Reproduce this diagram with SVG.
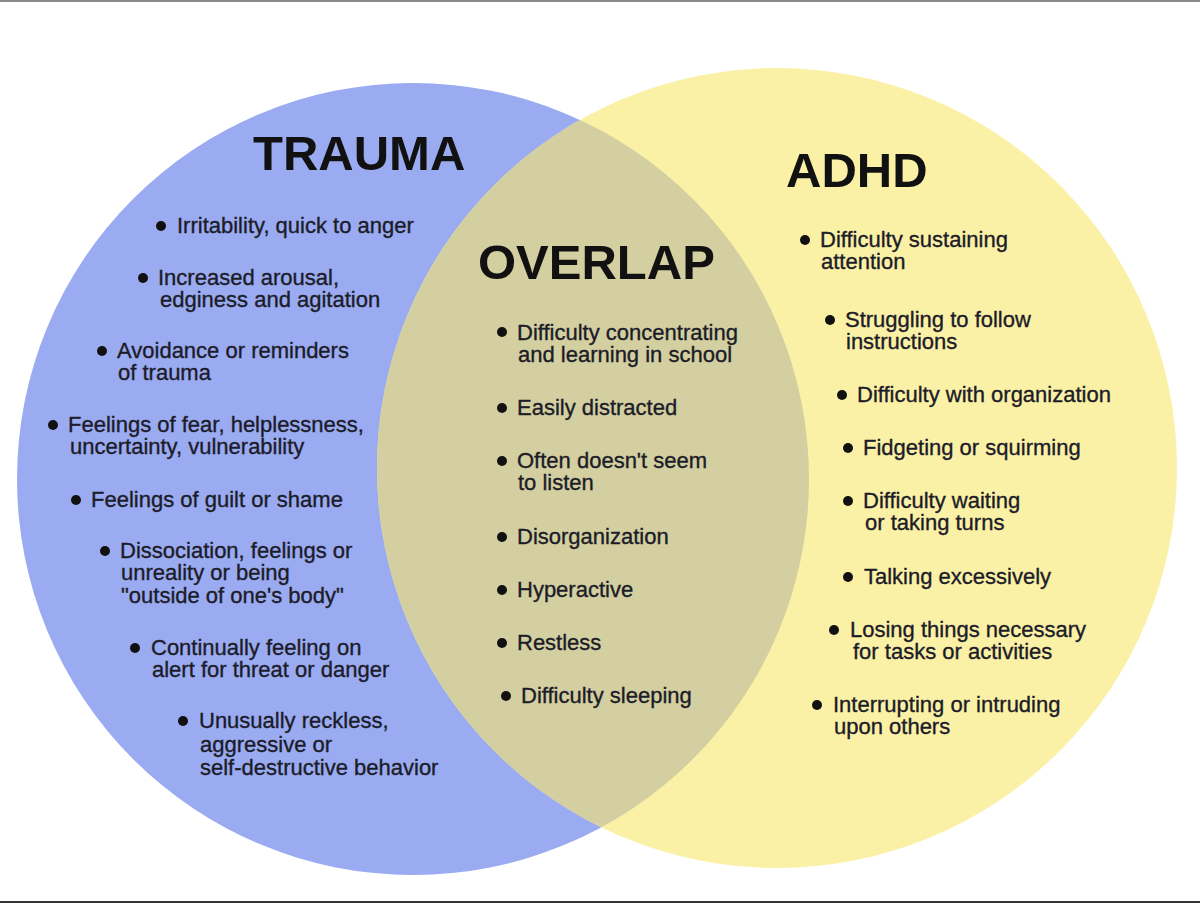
<svg xmlns="http://www.w3.org/2000/svg" width="1200" height="903" viewBox="0 0 1200 903">
<style>
.t{font-family:"Liberation Sans",Arial,sans-serif;font-size:22px;fill:#1c1c28;stroke:#1c1c28;stroke-width:0.35}
.h{font-family:"Liberation Sans",Arial,sans-serif;font-size:49px;font-weight:bold;fill:#111}
.b{fill:#111}
</style>
<defs>
<clipPath id="clipL"><circle cx="413" cy="479" r="396"/></clipPath>
</defs>
<rect x="0" y="0" width="1200" height="903" fill="#ffffff"/>
<rect x="0" y="0" width="1200" height="2" fill="#8a8a8a"/>
<rect x="0" y="901" width="1200" height="2" fill="#333333"/>
<g id="trauma-circle"><circle cx="413" cy="479" r="396" fill="#9aabf2"/></g>
<g id="adhd-circle"><circle cx="777" cy="468" r="400" fill="#fbf1a6"/></g>
<g id="overlap-region"><circle cx="777" cy="468" r="400" fill="#d3cfa0" clip-path="url(#clipL)"/></g>

<g id="trauma">
<text class="h" x="253" y="170">TRAUMA</text>
<circle class="b" cx="161" cy="226" r="5"/><text class="t" x="177" y="233">Irritability, quick to anger</text>
<circle class="b" cx="143" cy="278" r="5"/><text class="t" x="158" y="285">Increased arousal,</text><text class="t" x="160" y="307">edginess and agitation</text>
<circle class="b" cx="102" cy="351" r="5"/><text class="t" x="117" y="358">Avoidance or reminders</text><text class="t" x="118" y="380">of trauma</text>
<circle class="b" cx="53" cy="425" r="5"/><text class="t" x="68" y="432">Feelings of fear, helplessness,</text><text class="t" x="70" y="454">uncertainty, vulnerability</text>
<circle class="b" cx="76" cy="500" r="5"/><text class="t" x="91" y="507">Feelings of guilt or shame</text>
<circle class="b" cx="105" cy="551" r="5"/><text class="t" x="120" y="558">Dissociation, feelings or</text><text class="t" x="121" y="580">unreality or being</text><text class="t" x="121" y="603">"outside of one's body"</text>
<circle class="b" cx="135" cy="648" r="5"/><text class="t" x="151" y="655">Continually feeling on</text><text class="t" x="152" y="677">alert for threat or danger</text>
<circle class="b" cx="183" cy="721" r="5"/><text class="t" x="199" y="728">Unusually reckless,</text><text class="t" x="200" y="752">aggressive or</text><text class="t" x="200" y="775">self-destructive behavior</text>
</g>

<g id="overlap">
<text class="h" x="478" y="279">OVERLAP</text>
<circle class="b" cx="502" cy="332" r="5"/><text class="t" x="517" y="340">Difficulty concentrating</text><text class="t" x="518" y="362">and learning in school</text>
<circle class="b" cx="502" cy="408" r="5"/><text class="t" x="517" y="415">Easily distracted</text>
<circle class="b" cx="502" cy="461" r="5"/><text class="t" x="517" y="468">Often doesn't seem</text><text class="t" x="518" y="490">to listen</text>
<circle class="b" cx="502" cy="537" r="5"/><text class="t" x="517" y="544">Disorganization</text>
<circle class="b" cx="502" cy="590" r="5"/><text class="t" x="517" y="597">Hyperactive</text>
<circle class="b" cx="502" cy="643" r="5"/><text class="t" x="517" y="650">Restless</text>
<circle class="b" cx="506" cy="696" r="5"/><text class="t" x="521" y="703">Difficulty sleeping</text>
</g>

<g id="adhd">
<text class="h" x="786" y="187">ADHD</text>
<circle class="b" cx="805" cy="240" r="5"/><text class="t" x="820" y="247">Difficulty sustaining</text><text class="t" x="821" y="269">attention</text>
<circle class="b" cx="830" cy="320" r="5"/><text class="t" x="845" y="327">Struggling to follow</text><text class="t" x="846" y="349">instructions</text>
<circle class="b" cx="842" cy="395" r="5"/><text class="t" x="857" y="402">Difficulty with organization</text>
<circle class="b" cx="848" cy="448" r="5"/><text class="t" x="863" y="455">Fidgeting or squirming</text>
<circle class="b" cx="848" cy="501" r="5"/><text class="t" x="863" y="508">Difficulty waiting</text><text class="t" x="865" y="530">or taking turns</text>
<circle class="b" cx="848" cy="577" r="5"/><text class="t" x="864" y="584">Talking excessively</text>
<circle class="b" cx="834" cy="630" r="5"/><text class="t" x="850" y="637">Losing things necessary</text><text class="t" x="853" y="659">for tasks or activities</text>
<circle class="b" cx="817" cy="705" r="5"/><text class="t" x="833" y="712">Interrupting or intruding</text><text class="t" x="834" y="734">upon others</text>
</g>
</svg>
